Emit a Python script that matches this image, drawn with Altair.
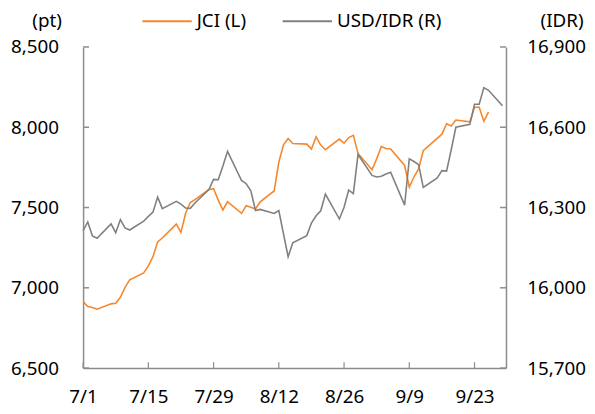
import altair as alt
import pandas as pd

# ---------------- data ----------------
jci_dates = [
    "2025-07-01", "2025-07-02", "2025-07-03", "2025-07-04",
    "2025-07-07", "2025-07-08", "2025-07-09", "2025-07-10", "2025-07-11",
    "2025-07-14", "2025-07-15", "2025-07-16", "2025-07-17", "2025-07-18",
    "2025-07-21", "2025-07-22", "2025-07-23", "2025-07-24", "2025-07-25",
    "2025-07-28", "2025-07-29", "2025-07-30", "2025-07-31", "2025-08-01",
    "2025-08-04", "2025-08-05", "2025-08-06", "2025-08-07", "2025-08-08",
    "2025-08-11", "2025-08-12", "2025-08-13", "2025-08-14", "2025-08-15",
    "2025-08-18", "2025-08-19", "2025-08-20", "2025-08-21", "2025-08-22",
    "2025-08-25", "2025-08-26", "2025-08-27", "2025-08-28", "2025-08-29",
    "2025-09-01", "2025-09-02", "2025-09-03", "2025-09-04", "2025-09-05",
    "2025-09-08", "2025-09-09", "2025-09-10", "2025-09-11", "2025-09-12",
    "2025-09-16", "2025-09-17", "2025-09-18", "2025-09-19",
    "2025-09-22", "2025-09-23", "2025-09-24", "2025-09-25", "2025-09-26",
]
jci_values = [
    6914, 6883, 6877, 6867,
    6900, 6904, 6941, 7003, 7050,
    7093, 7136, 7194, 7286, 7310,
    7397, 7345, 7464, 7531, 7549,
    7612, 7617, 7546, 7485, 7536,
    7464, 7511, 7501, 7491, 7536,
    7603, 7782, 7891, 7930, 7899,
    7895, 7864, 7940, 7889, 7860,
    7926, 7901, 7936, 7950, 7837,
    7735, 7803, 7880, 7868, 7864,
    7762, 7628, 7690, 7741, 7854,
    7957, 8022, 8008, 8045,
    8034, 8125, 8125, 8038, 8096,
]

idr_dates = [
    "2025-07-01", "2025-07-02", "2025-07-03", "2025-07-04",
    "2025-07-07", "2025-07-08", "2025-07-09", "2025-07-10", "2025-07-11",
    "2025-07-14", "2025-07-15", "2025-07-16", "2025-07-17", "2025-07-18",
    "2025-07-21", "2025-07-22", "2025-07-23", "2025-07-24", "2025-07-25",
    "2025-07-28", "2025-07-29", "2025-07-30", "2025-07-31", "2025-08-01",
    "2025-08-04", "2025-08-05", "2025-08-06", "2025-08-07", "2025-08-08",
    "2025-08-11", "2025-08-12", "2025-08-13", "2025-08-14", "2025-08-15",
    "2025-08-18", "2025-08-19", "2025-08-20", "2025-08-21", "2025-08-22",
    "2025-08-25", "2025-08-26", "2025-08-27", "2025-08-28", "2025-08-29",
    "2025-09-01", "2025-09-02", "2025-09-03", "2025-09-04", "2025-09-05",
    "2025-09-08", "2025-09-09", "2025-09-10", "2025-09-11", "2025-09-12",
    "2025-09-15", "2025-09-16", "2025-09-17", "2025-09-18", "2025-09-19",
    "2025-09-22", "2025-09-23", "2025-09-24", "2025-09-25", "2025-09-26",
    "2025-09-29",
]
idr_values = [
    16214, 16246, 16194, 16185,
    16239, 16206, 16255, 16224, 16216,
    16249, 16267, 16283, 16339, 16296,
    16323, 16313, 16298, 16297, 16317,
    16367, 16405, 16404, 16455, 16510,
    16401, 16389, 16362, 16289, 16293,
    16278, 16289, 16202, 16116, 16168,
    16195, 16242, 16269, 16288, 16350,
    16257, 16301, 16365, 16352, 16498,
    16420, 16414, 16417, 16425, 16432,
    16309, 16482, 16472, 16460, 16375,
    16411, 16438, 16436, 16516, 16600,
    16611, 16686, 16686, 16748, 16738,
    16680,
]

x_tick_dates = ["2025-07-01", "2025-07-15", "2025-07-29", "2025-08-12",
                "2025-08-26", "2025-09-09", "2025-09-23"]
jci_ticks = [6500, 7000, 7500, 8000, 8500]
idr_ticks = [15700, 16000, 16300, 16600, 16900]
series_names = ["JCI (L)", "USD/IDR (R)"]
series_colors = ["#F5882D", "#808080"]
unit_left = "(pt)"
unit_right = "(IDR)"

# ---------------- styling ----------------
W, H = 428, 325
FONT = "Noto Sans"
FS = 19
AXIS_COLOR = "#8C8C8C"


def dt(s, hours=0):
    y, m, d = (int(p) for p in s.split("-"))
    return alt.DateTime(year=y, month=m, date=d, hours=hours)


jci_df = pd.DataFrame({"date": [d + "T00:00:00" for d in jci_dates],
                       "value": jci_values, "series": series_names[0]})
idr_df = pd.DataFrame({"date": [d + "T00:00:00" for d in idr_dates],
                       "value": idr_values, "series": series_names[1]})
xt_df = pd.DataFrame({"date": [d + "T00:00:00" for d in x_tick_dates]})
lt_df = pd.DataFrame({"value": jci_ticks})
rt_df = pd.DataFrame({"value": idr_ticks})

x_scale = alt.Scale(domain=[dt("2025-07-01"), dt("2025-09-29", 18)])
x_axis = alt.Axis(values=[dt(d) for d in x_tick_dates], format="%-m/%-d",
                  title=None, labelFont=FONT, labelFontSize=FS, labelColor="black",
                  labelPadding=20, ticks=False, tickSize=0, grid=False,
                  domainColor=AXIS_COLOR, domainWidth=1.5, labelFlush=False)
x_enc = alt.X("date:T", scale=x_scale, axis=x_axis)

left_scale = alt.Scale(domain=[jci_ticks[0], jci_ticks[-1]], nice=False, zero=False)
right_scale = alt.Scale(domain=[idr_ticks[0], idr_ticks[-1]], nice=False, zero=False)

common_axis = dict(titleAngle=0, titleBaseline="middle", titleFont=FONT,
                   titleFontSize=FS, titleFontWeight="normal", titleColor="black",
                   labelFont=FONT, labelFontSize=FS, labelColor="black",
                   ticks=False, tickSize=0, grid=False,
                   labelExpr="format(datum.value, ',')",
                   domainColor=AXIS_COLOR, domainWidth=1.5)
left_axis = alt.Axis(orient="left", title=unit_left, values=jci_ticks,
                     titleAlign="right", titleX=-22, titleY=-27,
                     labelPadding=25, **common_axis)
right_axis = alt.Axis(orient="right", title=unit_right, values=idr_ticks,
                      titleAlign="right", titleX=78, titleY=-27,
                      labelPadding=21, **common_axis)

color = alt.Color("series:N",
                  scale=alt.Scale(domain=series_names, range=series_colors),
                  legend=alt.Legend(orient="none", legendX=59, legendY=-52,
                                    direction="horizontal", title=None,
                                    symbolType="stroke", symbolSize=2500,
                                    symbolStrokeWidth=2, labelFont=FONT,
                                    labelFontSize=FS, labelColor="black",
                                    labelOffset=4, columnPadding=33))

jci_line = alt.Chart(jci_df).mark_line(strokeWidth=1.6).encode(
    x=x_enc, y=alt.Y("value:Q", scale=left_scale, axis=left_axis), color=color)
left_tick_marks = alt.Chart(lt_df).mark_rule(color=AXIS_COLOR, strokeWidth=1.5).encode(
    y=alt.Y("value:Q", scale=left_scale, axis=left_axis),
    x=alt.value(0), x2=alt.value(6))
x_tick_marks = alt.Chart(xt_df).mark_rule(color=AXIS_COLOR, strokeWidth=1.2).encode(
    x=x_enc, y=alt.value(H), y2=alt.value(H - 6))

idr_line = alt.Chart(idr_df).mark_line(strokeWidth=1.6).encode(
    x=x_enc, y=alt.Y("value:Q", scale=right_scale, axis=right_axis), color=color)
right_tick_marks = alt.Chart(rt_df).mark_rule(color=AXIS_COLOR, strokeWidth=1.5).encode(
    y=alt.Y("value:Q", scale=right_scale, axis=right_axis),
    x=alt.value(W), x2=alt.value(W - 6))

left_layer = alt.layer(jci_line, left_tick_marks, x_tick_marks)
right_layer = alt.layer(idr_line, right_tick_marks)

chart = (
    alt.layer(left_layer, right_layer)
    .resolve_scale(y="independent")
    .properties(width=W, height=H,
                padding={"left": 76, "top": 37, "right": 82, "bottom": 42},
                autosize=alt.AutoSizeParams(type="none"),
                background="white")
    .configure_view(stroke=None)
)

chart.save("out.html", embed_options={"renderer": "svg", "actions": False})
